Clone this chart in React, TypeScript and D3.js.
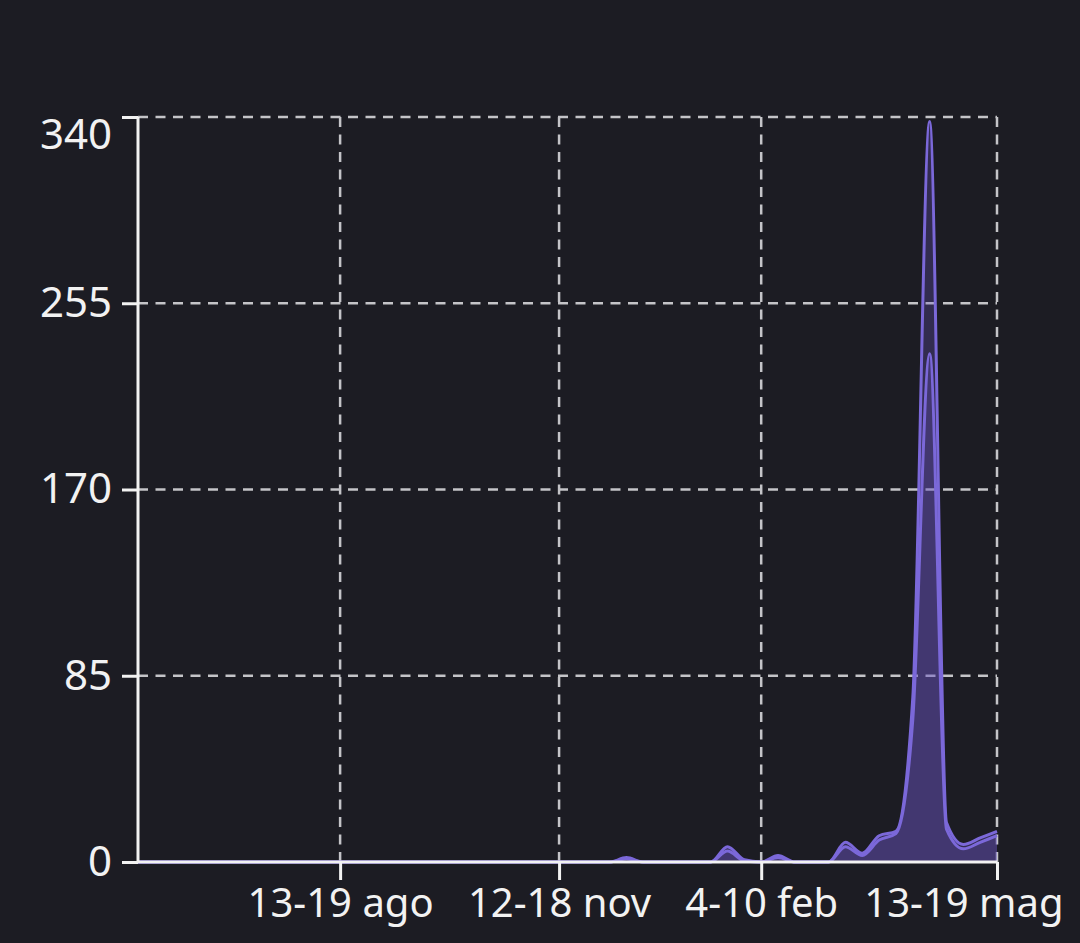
import React, { useEffect, useRef } from "react";
import * as d3 from "d3";

const START = new Date(2018, 4, 21);
const WEEKS = 52;
const seriesTotal = [
  0, 0, 0, 0, 0, 0, 0, 0, 0, 0, 0, 0, 0, 0, 0, 0, 0, 0, 0, 0,
  0, 0, 0, 0, 0, 0, 0, 0, 0, 2, 0, 0, 0, 0, 0, 7, 1, 0, 3, 0,
  0, 0, 9, 4, 12, 14, 75, 338, 18, 8, 11, 14,
];
const seriesPart = [
  0, 0, 0, 0, 0, 0, 0, 0, 0, 0, 0, 0, 0, 0, 0, 0, 0, 0, 0, 0,
  0, 0, 0, 0, 0, 0, 0, 0, 0, 1.5, 0, 0, 0, 0, 0, 5, 0.5, 0, 2, 0,
  0, 0, 7, 3, 10, 13, 65, 232, 15, 6, 9, 12,
];
const yTicks = [0, 85, 170, 255, 340];
const xTickDates = [
  new Date(2018, 7, 13),
  new Date(2018, 10, 12),
  new Date(2019, 1, 4),
  new Date(2019, 4, 13),
];
const xTickLabels = ["13-19 ago", "12-18 nov", "4-10 feb", "13-19 mag"];

const W = 1080;
const H = 943;
const M = { left: 138, right: 83, top: 117, bottom: 81 };
const BG = "#1c1c23";
const LINE = "#7b68d9";
const GRID = "#c4c4c8";
const FONT = "'Noto Sans', 'Open Sans', sans-serif";

export default function App() {
  const ref = useRef<SVGSVGElement | null>(null);

  useEffect(() => {
    const svg = d3.select(ref.current);
    svg.selectAll("*").remove();
    const dates = d3.range(WEEKS).map((i) => d3.timeWeek.offset(START, i));
    const x = d3
      .scaleTime()
      .domain([dates[0], dates[WEEKS - 1]])
      .range([M.left, W - M.right]);
    const y = d3.scaleLinear().domain([0, 340]).range([H - M.bottom, M.top]);

    svg.append("rect").attr("width", W).attr("height", H).attr("fill", BG);

    const g = svg.append("g");
    g.selectAll("line.hg")
      .data(yTicks.filter((t) => t > 0))
      .join("line")
      .attr("x1", M.left)
      .attr("x2", W - M.right)
      .attr("y1", (d) => y(d))
      .attr("y2", (d) => y(d))
      .attr("stroke", GRID)
      .attr("stroke-width", 2.5)
      .attr("stroke-dasharray", "10,7.5");
    g.selectAll("line.vg")
      .data(xTickDates)
      .join("line")
      .attr("x1", (d) => x(d))
      .attr("x2", (d) => x(d))
      .attr("y1", M.top)
      .attr("y2", H - M.bottom)
      .attr("stroke", GRID)
      .attr("stroke-width", 2.5)
      .attr("stroke-dasharray", "10,7.5");

    const make = (vals: number[]) =>
      d3
        .area<number>()
        .x((_, i) => x(dates[i]))
        .y0(y(0))
        .y1((d) => y(d))
        .curve(d3.curveMonotoneX)(vals);
    const line = (vals: number[]) =>
      d3
        .line<number>()
        .x((_, i) => x(dates[i]))
        .y((d) => y(d))
        .curve(d3.curveMonotoneX)(vals);

    [seriesTotal, seriesPart].forEach((s) => {
      g.append("path")
        .attr("d", make(s) as string)
        .attr("fill", "#6a57c4")
        .attr("fill-opacity", 0.28);
    });
    [seriesTotal, seriesPart].forEach((s) => {
      g.append("path")
        .attr("d", line(s) as string)
        .attr("fill", "none")
        .attr("stroke", LINE)
        .attr("stroke-width", 3);
    });

    const yAxis = d3.axisLeft(y).tickValues(yTicks).tickSize(16).tickPadding(10);
    const ya = svg
      .append("g")
      .attr("transform", `translate(${M.left},0)`)
      .call(yAxis);
    const xAxis = d3
      .axisBottom(x)
      .tickValues(xTickDates)
      .tickSize(18)
      .tickPadding(9)
      .tickFormat((_, i) => xTickLabels[i]);
    const xa = svg
      .append("g")
      .attr("transform", `translate(0,${H - M.bottom})`)
      .call(xAxis);

    [ya, xa].forEach((a) => {
      a.select(".domain").attr("stroke", "#f2f2f2").attr("stroke-width", 3);
      a.selectAll(".tick line").attr("stroke", "#f2f2f2").attr("stroke-width", 3);
      a.selectAll(".tick text")
        .attr("fill", "#f2f2f2")
        .attr("font-family", FONT);
    });
    ya.selectAll(".tick text").attr("font-size", 42);
    xa.selectAll(".tick text").attr("font-size", 40);
    ya.select(".domain").attr("d", `M0,${M.top}V${H - M.bottom}`);
    xa.select(".domain").attr("d", `M${M.left},0H${W - M.right}`);
    ya.selectAll<SVGTextElement, number>(".tick text")
      .filter((d) => d === 340)
      .attr("dy", "0.75em");
    xa.selectAll<SVGTextElement, Date>(".tick text")
      .filter((_, i) => i === xTickLabels.length - 1)
      .attr("text-anchor", "end")
      .attr("x", 66);
  }, []);

  return (
    <svg
      ref={ref}
      width={W}
      height={H}
      style={{ position: "fixed", top: 0, left: 0, display: "block" }}
    />
  );
}
